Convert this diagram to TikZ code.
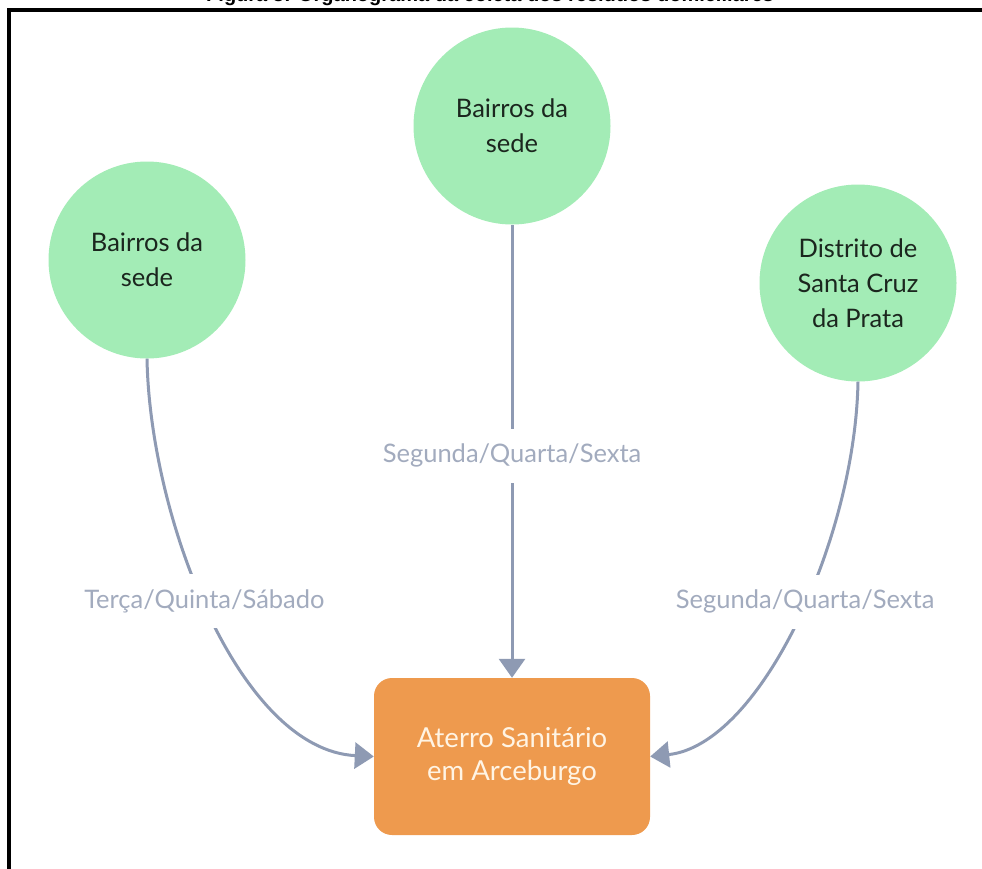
\documentclass[tikz,border=0pt]{standalone}
\usepackage{fontspec}
\setmainfont{Lato}
\newfontfamily\titlefont{Liberation Sans}
\usetikzlibrary{arrows.meta}
\definecolor{circfill}{HTML}{A3ECB6}
\definecolor{boxfill}{HTML}{EE9A4E}
\definecolor{connc}{HTML}{8E9AB3}
\definecolor{lblc}{HTML}{A2ABBE}
\definecolor{boxtext}{HTML}{FFF4E4}
\definecolor{circtext}{HTML}{1B261E}
\begin{document}
\begin{tikzpicture}[x=1pt,y=-1pt,
  place/.style={circle, fill=circfill, minimum size=197pt, inner sep=0pt, align=center,
    font=\fontsize{25.5}{35}\selectfont, text=circtext},
  target/.style={rectangle, rounded corners=18pt, fill=boxfill, minimum width=276pt,
    minimum height=157pt, align=center, font=\fontsize{27.5}{33}\selectfont, text=boxtext},
  link/.style={draw=connc, line width=3pt, -{Triangle[width=26pt,length=19pt]}},
  lab/.style={fill=white, text=lblc, font=\fontsize{25.5}{30}\selectfont, inner xsep=2pt,
    minimum height=54pt}
]
\useasboundingbox (0,0) rectangle (982,868);
\begin{scope}
  \clip (0,0) rectangle (982,868);
  \node[anchor=base, inner sep=0pt, font=\fontsize{20}{24}\selectfont\titlefont\bfseries] (title) at (490,1)
    {Figura 3: Organograma da coleta dos resíduos domiciliares};
  \draw[line width=3.5pt] (9,900) -- (9,10) -- (1000,10);
\end{scope}

\node[place] (top) at (512,126) {Bairros da\\sede};
\node[place] (left) at (147,260) {Bairros da\\sede};
\node[place] (right) at (858,283) {Distrito de\\Santa Cruz\\da Prata};
\node[target] (dest) at (512,756.5) {Aterro Sanitário\\em Arceburgo};

\draw[link] (top) -- node[lab, pos=0.51] (l1) {Segunda/Quarta/Sexta} (dest);
\draw[link] (left.south) .. controls (150,520) and (240,750) .. (dest.west)
  node[lab, pos=0.47] (l2) {Terça/Quinta/Sábado};
\draw[link] (right.south) .. controls (855,540) and (760,745) .. (dest.east)
  node[lab, pos=0.45] (l3) {Segunda/Quarta/Sexta};
\end{tikzpicture}
\end{document}
